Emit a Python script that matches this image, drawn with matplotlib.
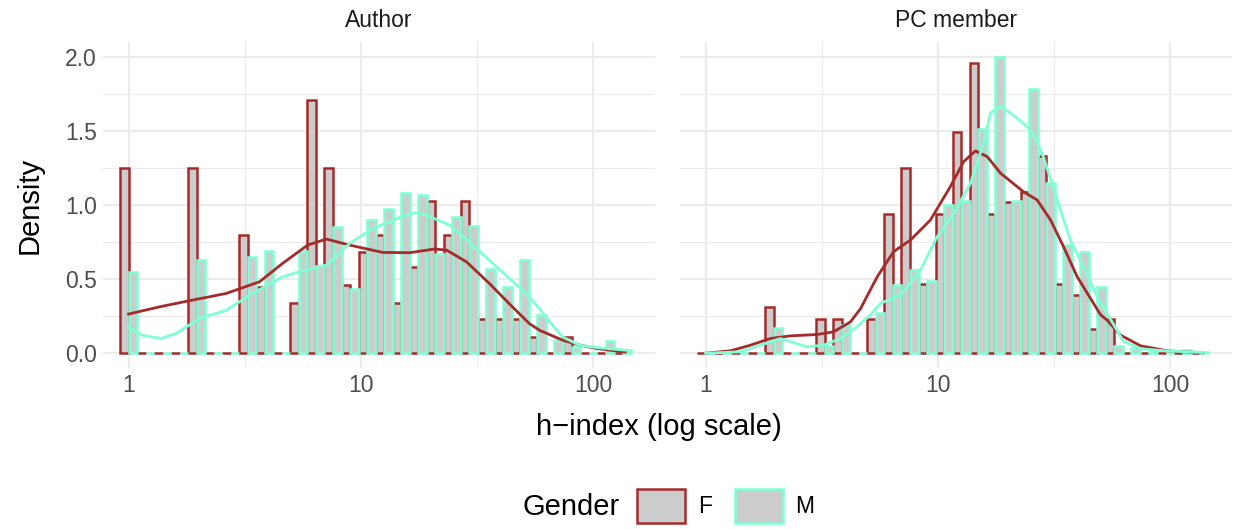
import numpy as np
import matplotlib
matplotlib.use("Agg")
import matplotlib.pyplot as plt
from matplotlib.patches import Patch
from matplotlib.ticker import FixedLocator, FixedFormatter, NullFormatter

plt.rcParams['font.family'] = ['Liberation Sans', 'DejaVu Sans']

# histogram bins (log10 scale)
n_bins = 30
bin_width = 0.0733

# bar heights (density) per bin
author_f = [1.25, 0, 0, 0, 1.25, 0, 0, 0.80, 0.45, 0, 0.34, 1.71, 1.25, 0.46, 0.68,
            0.80, 0.34, 0.58, 1.03, 0.80, 1.03, 0.23, 0.23, 0.23, 0.11, 0, 0.11, 0, 0, 0]
author_m = [0.55, 0, 0, 0, 0.63, 0, 0, 0.65, 0.69, 0, 0.69, 0.59, 0.85, 0.43, 0.90,
            0.97, 1.08, 1.07, 0.67, 0.92, 0.86, 0.57, 0.45, 0.63, 0.26, 0.09, 0.04, 0, 0.08, 0.02]
pc_f = [0, 0, 0, 0, 0.31, 0, 0, 0.23, 0.23, 0, 0.23, 0.94, 1.25, 0.47, 0.94,
        1.49, 1.96, 0.94, 1.02, 1.09, 1.33, 0.47, 0.39, 0.16, 0.23, 0, 0, 0, 0, 0]
pc_m = [0, 0, 0, 0, 0.17, 0, 0, 0.05, 0.19, 0, 0.27, 0.46, 0.56, 0.49, 1.00,
        1.03, 1.51, 2.00, 1.03, 1.78, 1.15, 0.73, 0.68, 0.45, 0.05, 0.035, 0.01, 0, 0.02, 0.01]

# density curves (h-index, density)
author_f_x = [1.0, 1.36, 1.88, 2.63, 3.66, 4.6, 5.9, 7.1, 8.9, 12.4, 16.2, 20.7, 23.3,
              28.4, 35.7, 44.8, 53.0, 58.6, 73.6, 87.1, 103, 137]
author_f_y = [0.264, 0.313, 0.358, 0.403, 0.482, 0.606, 0.73, 0.77, 0.73, 0.68, 0.678,
              0.703, 0.696, 0.617, 0.47, 0.313, 0.20, 0.155, 0.088, 0.055, 0.032, 0.008]
author_m_x = [1.0, 1.15, 1.38, 1.60, 2.02, 2.63, 3.31, 4.6, 5.44, 7.11, 8.92, 11.2, 14.6,
              17.0, 19.1, 24.0, 30.2, 38.3, 49.5, 53.0, 58.6, 62.6, 73.6, 87.1, 103, 137]
author_m_y = [0.173, 0.12, 0.099, 0.133, 0.234, 0.29, 0.39, 0.516, 0.55, 0.595, 0.74, 0.84,
              0.915, 0.948, 0.932, 0.865, 0.73, 0.583, 0.426, 0.38, 0.30, 0.24, 0.11, 0.054,
              0.038, 0.02]
pc_f_x = [1.0, 1.28, 1.56, 1.90, 2.32, 3.02, 3.55, 4.20, 4.64, 5.48, 6.44, 7.62, 9.28, 11.3,
          12.9, 14.5, 16.3, 18.6, 23.3, 26.7, 30.5, 34.7, 39.7, 45.3, 50.0, 53.4, 61.0, 74.3,
          97.1, 137]
pc_f_y = [0.0, 0.016, 0.054, 0.099, 0.117, 0.126, 0.144, 0.211, 0.30, 0.516, 0.685, 0.764,
          0.899, 1.124, 1.293, 1.365, 1.326, 1.214, 1.09, 1.034, 0.899, 0.718, 0.516, 0.37,
          0.26, 0.223, 0.122, 0.05, 0.016, 0.003]
pc_m_x = [1.0, 1.41, 1.72, 2.10, 2.32, 2.74, 3.22, 3.81, 4.49, 5.13, 5.66, 6.90, 8.41, 9.92,
          11.7, 13.8, 15.7, 16.8, 18.6, 20.5, 23.3, 25.7, 28.4, 32.6, 37.1, 42.3, 48.4, 55.2,
          62.8, 74.3, 97.1, 137]
pc_m_y = [0.0, 0.009, 0.054, 0.099, 0.077, 0.043, 0.054, 0.099, 0.178, 0.26, 0.336, 0.392,
          0.561, 0.786, 0.944, 1.147, 1.417, 1.62, 1.665, 1.62, 1.552, 1.484, 1.326, 1.034,
          0.764, 0.583, 0.38, 0.23, 0.08, 0.03, 0.015, 0.005]

col_f = '#A52A2A'
col_m = '#7FFFD4'
fill = '#CCCCCC'
grid_col = '#EBEBEB'

centres = np.arange(n_bins) * bin_width
left_edges = 10 ** (centres - bin_width / 2)
mids = 10 ** centres
right_edges = 10 ** (centres + bin_width / 2)

fig = plt.figure(figsize=(12.36, 5.29), dpi=100)
ax1 = fig.add_axes([103 / 1236, 161 / 529, 552 / 1236, 326 / 529])
ax2 = fig.add_axes([680 / 1236, 161 / 529, 552 / 1236, 326 / 529])


def draw_panel(ax, f_h, m_h, fx, fy, mx, my, title):
    ax.bar(left_edges, f_h, width=mids - left_edges, align='edge',
           color=fill, edgecolor=col_f, linewidth=1.8, zorder=2)
    ax.bar(mids, m_h, width=right_edges - mids, align='edge',
           color=fill, edgecolor=col_m, linewidth=1.8, zorder=2)
    ax.plot(fx, fy, color=col_f, linewidth=2.0, zorder=3)
    ax.plot(mx, my, color=col_m, linewidth=2.0, zorder=3)

    ax.set_xscale('log')
    ax.set_xlim(10 ** -0.11, 10 ** 2.265)
    ax.set_ylim(-0.1, 2.1)
    ax.xaxis.set_major_locator(FixedLocator([1, 10, 100]))
    ax.xaxis.set_major_formatter(FixedFormatter(['1', '10', '100']))
    ax.xaxis.set_minor_locator(FixedLocator([10 ** 0.5, 10 ** 1.5]))
    ax.xaxis.set_minor_formatter(NullFormatter())
    ax.yaxis.set_major_locator(FixedLocator([0, 0.5, 1.0, 1.5, 2.0]))
    ax.yaxis.set_major_formatter(FixedFormatter(['0.0', '0.5', '1.0', '1.5', '2.0']))
    ax.yaxis.set_minor_locator(FixedLocator([0.25, 0.75, 1.25, 1.75]))
    ax.grid(which='major', color=grid_col, linewidth=1.5)
    ax.grid(which='minor', color=grid_col, linewidth=0.8)
    ax.set_axisbelow(True)
    ax.tick_params(which='both', length=0, labelsize=16.5, labelcolor='#4D4D4D', pad=4.5)
    for s in ax.spines.values():
        s.set_visible(False)
    ax.set_title(title, fontsize=16.5, color='#1A1A1A', pad=11)


draw_panel(ax1, author_f, author_m, author_f_x, author_f_y, author_m_x, author_m_y, 'Author')
draw_panel(ax2, pc_f, pc_m, pc_f_x, pc_f_y, pc_m_x, pc_m_y, 'PC member')
ax2.tick_params(labelleft=False)

fig.text(30 / 1236, 1 - 205 / 529, 'Density', rotation=90, ha='center', va='center', fontsize=21)
fig.text(659 / 1236, 1 - 427 / 529, 'h\u2212index (log scale)', ha='center', va='center', fontsize=21)

# legend
fig.text(523 / 1236, 1 - 507 / 529, 'Gender', ha='left', va='center', fontsize=21)
handles = [Patch(facecolor=fill, edgecolor=col_f, linewidth=1.8),
           Patch(facecolor=fill, edgecolor=col_m, linewidth=1.8)]
fig.legend(handles, ['F', 'M'], loc='center left', bbox_to_anchor=(637 / 1236, 1 - 506 / 529),
           ncol=2, frameon=False, borderpad=0, borderaxespad=0, fontsize=16.5,
           handlelength=2.1, handleheight=1.9, handletextpad=0.55, columnspacing=1.0)

fig.savefig('out.png', dpi=100)
